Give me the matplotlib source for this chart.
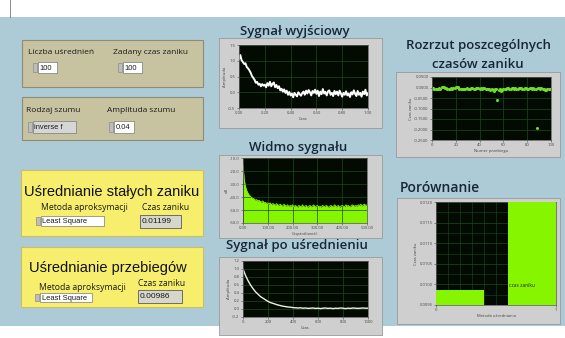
import numpy as np
import matplotlib.pyplot as plt
from matplotlib.patches import Rectangle

plt.rcParams['font.family'] = ['Open Sans', 'DejaVu Sans']

# --- front panel values ---
n_avg = "100"
set_tau = "100"
noise_type = "inverse f"
noise_amp = "0.04"
tau_const_avg = "0.01199"
tau_wave_avg = "0.00986"
fit_method = "Least Square"

# output signal (one noisy run), time 0..1
sig_out = [
    1.05, 1.18, 1.02, 0.96, 0.90, 0.92, 0.80, 0.76, 0.70, 0.62,
    0.52, 0.46, 0.40, 0.30, 0.33, 0.24, 0.27, 0.19, 0.26, 0.21,
    0.24, 0.16, 0.29, 0.21, 0.33, 0.19, 0.27, 0.31, 0.16, 0.23,
    0.13, 0.19, 0.06, 0.11, 0.02, 0.09, -0.02, 0.05, -0.08, 0.01,
    -0.10, -0.04, -0.16, -0.02, -0.08, -0.13, 0.00, -0.06, -0.11, -0.03,
    0.02, -0.08, 0.05, -0.04, 0.07, 0.00, -0.10, 0.04, -0.02, 0.08,
    -0.05, 0.05, -0.12, 0.02, -0.06, 0.10, -0.04, 0.01, -0.10, 0.03,
    0.06, -0.08, -0.02, -0.12, 0.04, -0.06, 0.02, -0.10, 0.05, -0.04,
    -0.14, -0.02, -0.08, 0.03, -0.10, -0.04, -0.15, 0.00, -0.07, 0.06,
    -0.05, -0.12, 0.04, -0.08, -0.02, -0.14, 0.02, -0.06, 0.08, -0.10,
    -0.03]

# spectrum in dB, frequency 0..500 step 5
spec_db = [
    -15, -27, -32, -35, -37, -38.5, -39.5, -40.5, -41, -41.5,
    -42.5, -42, -43, -42.5, -43.5, -44, -43, -44.5, -44, -45,
    -44.5, -45.5, -44.5, -46, -45, -45.5, -46.5, -45, -46, -46.5,
    -45.5, -46.5, -47, -45.5, -46.5, -47, -46, -47.5, -46.5, -47,
    -46, -47.5, -46.5, -47, -48, -46.5, -47, -47.5, -46, -47.5,
    -47, -46.5, -48, -47, -46.5, -47.5, -47, -46, -47.5, -47,
    -46.5, -47.5, -47, -48, -46.5, -47, -47.5, -46.5, -47, -48,
    -47, -46.5, -47.5, -47, -46, -47.5, -47, -46.5, -48, -47,
    -46.5, -47, -47.5, -46, -47, -46.5, -47.5, -47, -46, -46.5,
    -47, -46.5, -47, -46, -46.5, -45.5, -47, -46, -45.5, -46.5,
    -46]

# averaged signal, time 0..1000 step 20
sig_avg = [
    1.00, 0.84, 0.71, 0.60, 0.51, 0.43, 0.37, 0.31, 0.27, 0.23,
    0.19, 0.16, 0.14, 0.12, 0.10, 0.085, 0.07, 0.06, 0.05, 0.045,
    0.035, 0.03, 0.025, 0.03, 0.02, 0.025, 0.015, 0.02, 0.025, 0.015,
    0.02, 0.01, 0.02, 0.025, 0.015, 0.02, 0.01, 0.02, 0.015, 0.025,
    0.02, 0.01, 0.02, 0.015, 0.025, 0.02, 0.015, 0.02, 0.025, 0.02,
    0.02]

# decay time of each run
tau_runs = [
    -0.006, -0.004, -0.007, -0.005, -0.008, -0.006, -0.003, -0.005, 0.002, 0.004,
    0.003, 0.000, -0.004, -0.006, -0.005, -0.007, -0.004, -0.006, -0.003, -0.001,
    0.002, 0.004, 0.001, -0.007, -0.009, -0.006, -0.005, -0.008, -0.006, -0.004,
    -0.005, -0.007, -0.006, -0.004, -0.003, -0.005, -0.006, -0.004, -0.002, -0.004,
    -0.005, -0.003, -0.006, -0.004, -0.002, -0.005, -0.007, -0.005, -0.008, -0.010,
    -0.007, -0.012, -0.016, -0.009, -0.006, -0.060, -0.011, -0.008, -0.018, -0.010,
    -0.007, -0.005, -0.006, -0.004, -0.003, -0.005, -0.006, -0.004, -0.003, -0.005,
    -0.004, -0.006, -0.007, -0.004, -0.002, -0.004, -0.006, -0.005, -0.003, -0.004,
    -0.005, -0.006, -0.004, -0.003, -0.005, -0.004, -0.006, -0.005, -0.195, -0.004,
    -0.003, -0.005, -0.004, -0.006, -0.008, -0.010, -0.014, -0.007, -0.005, -0.006]

# comparison of both averaging methods
cmp_x = [0.2, 0.8]
cmp_tau = [0.00986, 0.01199]

W, H = 565, 338
PANEL = '#adcbd6'
KHAKI = '#c7c3a0'
YELLOW = '#f6ee6c'
FRAME = '#cfcfcf'
PLOTBG = '#020a02'
GRIDC = '#1d4a1d'
GREEN = '#86f500'
NAVY = '#18263a'
ARIAL = ['Liberation Sans', 'DejaVu Sans']

fig = plt.figure(figsize=(W / 100, H / 100), dpi=100)
fig.patch.set_facecolor('white')
bg = fig.add_axes([0, 0, 1, 1])
bg.set_xlim(0, W)
bg.set_ylim(H, 0)
bg.axis('off')


def box(x0, y0, x1, y1, fc, ec='none', lw=0.8, z=1):
    bg.add_patch(Rectangle((x0, y0), x1 - x0, y1 - y0, fc=fc, ec=ec, lw=lw, zorder=z))


def txt(x, y, s, size, ha='left', color='#1a1a1a', family=None, weight='normal', z=5):
    kw = {}
    if family:
        kw['family'] = family
    bg.text(x, y, s, fontsize=size, ha=ha, va='center', color=color,
            fontweight=weight, zorder=z, **kw)


def numeric(x0, y0, x1, y1, s, fc='white'):
    box(x0 - 5, y0 + 1, x0 - 1, y1 - 1, '#bdbdbd', '#8c8c8c', 0.5, 3)
    box(x0, y0, x1, y1, fc, '#7a7a7a', 0.5, 3)
    txt(x0 + 1.5, (y0 + y1) / 2 + 0.5, s, 5.4, family=ARIAL)


def chart(x0, y0, x1, y1):
    ax = fig.add_axes([x0 / W, 1 - y1 / H, (x1 - x0) / W, (y1 - y0) / H])
    ax.set_facecolor(PLOTBG)
    ax.grid(True, color=GRIDC, lw=0.5)
    ax.tick_params(labelsize=3, colors='#444444', length=1.5, width=0.4, pad=1)
    for sp in ax.spines.values():
        sp.set_color('#555555')
        sp.set_linewidth(0.5)
    return ax


# panel background
box(0, 17, W, 326, PANEL)
bg.plot([10, 10], [0, 17], color='#777777', lw=0.6, zorder=2)

# parameter boxes
box(22, 40, 203, 87, KHAKI, '#8f8c74', 0.8)
txt(28, 53, "Liczba uśrednień", 6)
txt(113, 53, "Zadany czas zaniku", 6)
numeric(38, 62, 57, 73, n_avg)
numeric(123, 62, 142, 73, set_tau)

box(22, 97, 203, 140, KHAKI, '#8f8c74', 0.8)
txt(26, 111, "Rodzaj szumu", 6)
txt(107, 111, "Amplituda szumu", 6)
numeric(33, 121, 76, 133, noise_type, fc='#d6d6d6')
numeric(114, 121, 134, 133, noise_amp)

# result boxes
box(21, 170, 203, 236, YELLOW, '#c9c060', 0.8)
txt(112, 192, "Uśrednianie stałych zaniku", 10.5, ha='center', color='#111111',
    family=ARIAL)
txt(84, 208, "Metoda aproksymacji", 6.2, ha='center')
txt(166, 207, "Czas zaniku", 6.2, ha='center')
numeric(41, 216, 104, 226, fit_method)
box(140, 215, 181, 228, '#d7d6cc', '#5a5a5a', 0.6, 3)
txt(142, 221.5, tau_const_avg, 6, family=ARIAL)

box(21, 247, 203, 307, YELLOW, '#c9c060', 0.8)
txt(108, 268, "Uśrednianie przebiegów", 10.5, ha='center', color='#111111',
    family=ARIAL)
txt(82, 287, "Metoda aproksymacji", 6.2, ha='center')
txt(162, 283, "Czas zaniku", 6.2, ha='center')
numeric(40, 293, 92, 302, fit_method)
box(138, 290, 182, 303, '#d7d6cc', '#5a5a5a', 0.6, 3)
txt(140, 296.5, tau_wave_avg, 6, family=ARIAL)

# chart frames and titles
for fx0, fy0, fx1, fy1 in [(219, 38, 382, 128), (219, 155, 382, 238),
                           (219, 257, 382, 335), (396, 72, 560, 157),
                           (397, 198, 560, 324)]:
    box(fx0, fy0, fx1, fy1, FRAME, '#9a9a9a', 0.6, 2)

txt(295, 31, "Sygnał wyjściowy", 9.5, ha='center', color=NAVY, weight='semibold')
txt(298, 147, "Widmo sygnału", 9.5, ha='center', color=NAVY, weight='semibold')
txt(297, 246, "Sygnał po uśrednieniu", 9.5, ha='center', color=NAVY, weight='semibold')
txt(478, 45, "Rozrzut poszcególnych", 9.5, ha='center', color=NAVY, weight='semibold')
txt(478, 64, "czasów zaniku", 9.5, ha='center', color=NAVY, weight='semibold')
txt(400, 188, "Porównanie", 10, color=NAVY, weight='semibold')

# output signal
ax1 = chart(239, 45, 368, 108)
t1 = np.linspace(0, 1, len(sig_out))
ax1.plot(t1, sig_out, color='white', lw=1.4)
ax1.set_xlim(0, 1)
ax1.set_ylim(-0.5, 1.5)
ax1.set_xticks([0, 0.2, 0.4, 0.6, 0.8, 1.0])
ax1.set_xticklabels(['0.00', '0.20', '0.40', '0.60', '0.80', '1.00'])
ax1.set_yticks([-0.5, 0, 0.5, 1.0, 1.5])
ax1.set_yticklabels(['-0.5', '0.0', '0.5', '1.0', '1.5'])
ax1.set_xlabel("Czas", fontsize=3, labelpad=1, color='#444444')
ax1.set_ylabel("Amplituda", fontsize=3, labelpad=1, color='#444444')

# spectrum
ax2 = chart(243, 158, 367, 223)
f2 = np.linspace(0, 500, len(spec_db))
ax2.fill_between(f2, spec_db, -60, color=GREEN, lw=0)
ax2.plot(f2, spec_db, color=GREEN, lw=0.6)
ax2.set_xlim(0, 500)
ax2.set_ylim(-60, -10)
ax2.set_xticks([0, 100, 200, 300, 400, 500])
ax2.set_xticklabels(['0.00', '100.00', '200.00', '300.00', '400.00', '500.00'])
ax2.set_yticks([-60, -50, -40, -30, -20, -10])
ax2.set_yticklabels(['-60.0', '-50.0', '-40.0', '-30.0', '-20.0', '-10.0'])
ax2.set_xlabel("Częstotliwość", fontsize=3, labelpad=1, color='#444444')
ax2.set_ylabel("dB", fontsize=3, labelpad=1, color='#444444')

# averaged signal
ax3 = chart(243, 261, 368, 317)
t3 = np.linspace(0, 1000, len(sig_avg))
ax3.plot(t3, sig_avg, color='#f0f0e0', lw=1.0)
ax3.set_xlim(0, 1000)
ax3.set_ylim(-0.2, 1.2)
ax3.set_xticks([0, 200, 400, 600, 800, 1000])
ax3.set_yticks([-0.2, 0, 0.2, 0.4, 0.6, 0.8, 1.0, 1.2])
ax3.set_yticklabels(['-0.2', '0.0', '0.2', '0.4', '0.6', '0.8', '1.0', '1.2'])
ax3.set_xlabel("Czas", fontsize=3, labelpad=1, color='#444444')
ax3.set_ylabel("Amplituda", fontsize=3, labelpad=1, color='#444444')

# scatter of decay times
ax4 = chart(432, 77, 551, 140)
ax4.plot(np.arange(len(tau_runs)), tau_runs, 'o', color='#6fdc2a', ms=2.2, mew=0)
ax4.set_xlim(0, 100)
ax4.set_ylim(-0.25, 0.05)
ax4.set_xticks([0, 20, 40, 60, 80, 100])
ax4.set_yticks([-0.25, -0.2, -0.15, -0.1, -0.05, 0, 0.05])
ax4.set_yticklabels(['-0.2500', '-0.2000', '-0.1500', '-0.1000', '-0.0500',
                     '0.0000', '0.0500'])
ax4.set_xlabel("Numer przebiegu", fontsize=3, labelpad=1, color='#444444')
ax4.set_ylabel("Czas zaniku", fontsize=3, labelpad=1, color='#444444')

# comparison bars
ax5 = chart(436, 202, 556, 305)
ax5.bar(cmp_x, cmp_tau, width=0.4, color=GREEN, zorder=3)
ax5.set_xlim(0, 1)
ax5.set_ylim(0.0095, 0.0120)
ax5.set_xticks([0, 1])
ax5.set_yticks([0.0095, 0.0100, 0.0105, 0.0110, 0.0115, 0.0120])
ax5.set_yticklabels(['0.0095', '0.0100', '0.0105', '0.0110', '0.0115', '0.0120'])
ax5.set_xticks(np.arange(0, 1.0, 0.1), minor=True)
ax5.set_yticks(np.arange(0.0095, 0.0120, 0.00025), minor=True)
ax5.grid(True, which='minor', color=GRIDC, lw=0.4)
ax5.tick_params(which='minor', length=0)
ax5.text(0.61, 0.00993, "czas zaniku", fontsize=3.5, color='#222222', zorder=4)
ax5.set_xlabel("Metoda uśredniania", fontsize=3, labelpad=1, color='#444444')
ax5.set_ylabel("Czas zaniku", fontsize=3, labelpad=1, color='#444444')

fig.savefig("out.png", dpi=100)
